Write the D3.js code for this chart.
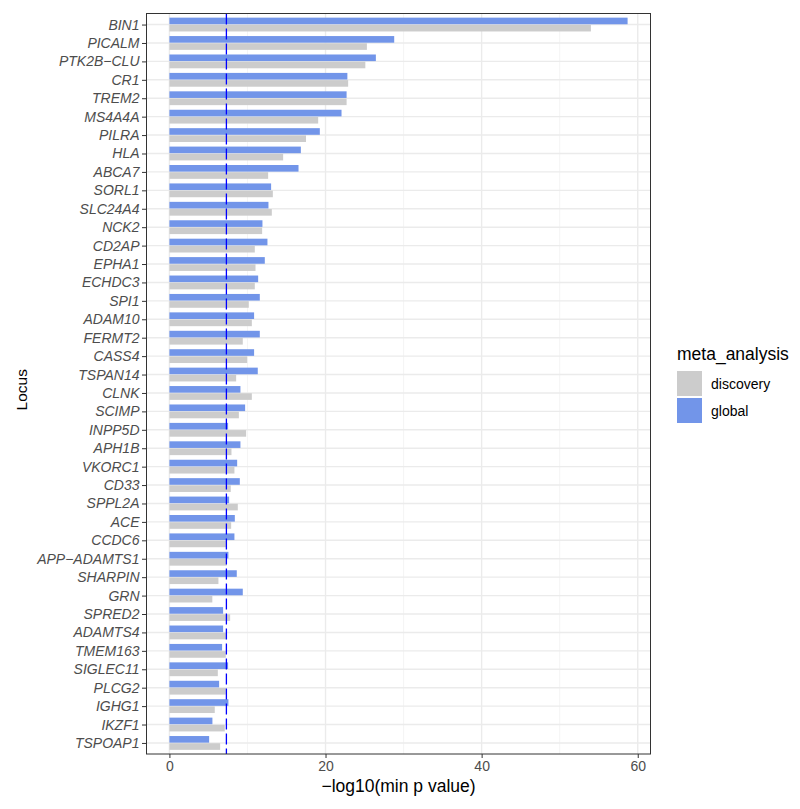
<!DOCTYPE html>
<html>
<head>
<meta charset="utf-8">
<script src="https://cdn.jsdelivr.net/npm/d3@7"></script>
<style>
  body { margin: 0; background: #fff; }
  text { font-family: "Liberation Sans", Arial, Helvetica, sans-serif; }
</style>
</head>
<body>
<div id="chart"></div>
<script>
const WIDTH = 800;
const HEIGHT = 809;

// loci, top to bottom
const loci = ["BIN1", "PICALM", "PTK2B\u2212CLU", "CR1", "TREM2", "MS4A4A", "PILRA", "HLA", "ABCA7", "SORL1",
  "SLC24A4", "NCK2", "CD2AP", "EPHA1", "ECHDC3", "SPI1", "ADAM10", "FERMT2", "CASS4", "TSPAN14",
  "CLNK", "SCIMP", "INPP5D", "APH1B", "VKORC1", "CD33", "SPPL2A", "ACE", "CCDC6", "APP\u2212ADAMTS1",
  "SHARPIN", "GRN", "SPRED2", "ADAMTS4", "TMEM163", "SIGLEC11", "PLCG2", "IGHG1", "IKZF1", "TSPOAP1"];

// -log10(min p) per locus
const globalVals = [58.7, 28.8, 26.45, 22.8, 22.7, 22.05, 19.27, 16.84, 16.54, 13.03,
  12.69, 11.92, 12.56, 12.22, 11.37, 11.58, 10.85, 11.58, 10.85, 11.32,
  9.1, 9.7, 7.52, 9.1, 8.68, 9.02, 7.65, 8.38, 8.33, 7.56,
  8.63, 9.4, 6.88, 6.88, 6.75, 7.52, 6.37, 7.56, 5.51, 5.09];

const discoveryVals = [54.0, 25.3, 25.1, 22.9, 22.7, 19.06, 17.5, 14.57, 12.65, 13.25,
  13.12, 11.88, 10.94, 11.03, 10.94, 10.17, 10.56, 9.4, 9.96, 8.55,
  10.56, 8.9, 9.83, 7.95, 8.33, 7.86, 8.76, 7.91, 7.26, 7.35,
  6.28, 5.5, 7.78, 7.35, 7.22, 6.2, 7.22, 5.81, 7.09, 6.5];

const threshold = -Math.log10(5e-8);
const xTicks = [0, 20, 40, 60];
const xMinor = [10, 30, 50];

const legendKeys = ["discovery", "global"];
const legendColors = ["#CCCCCC", "#7295E9"];

const panel = { left: 146.5, right: 650.5, top: 13.5, bottom: 754 };

const svg = d3.select("#chart").append("svg")
  .attr("width", WIDTH)
  .attr("height", HEIGHT);

const maxV = d3.max(globalVals.concat(discoveryVals));
const pad = maxV * 0.05;

const x = d3.scaleLinear()
  .domain([-pad, maxV + pad])
  .range([panel.left, panel.right]);

// one slot per locus, 0.6 step of padding at both ends like ggplot
const y = d3.scalePoint()
  .domain(loci)
  .range([panel.top, panel.bottom])
  .padding(0.6);
const step = y.step();

// grid
svg.append("g")
  .selectAll("line")
  .data(xMinor)
  .join("line")
  .attr("x1", d => x(d)).attr("x2", d => x(d))
  .attr("y1", panel.top).attr("y2", panel.bottom)
  .attr("stroke", "#F2F2F2").attr("stroke-width", 0.8);

svg.append("g")
  .selectAll("line")
  .data(xTicks)
  .join("line")
  .attr("x1", d => x(d)).attr("x2", d => x(d))
  .attr("y1", panel.top).attr("y2", panel.bottom)
  .attr("stroke", "#EBEBEB").attr("stroke-width", 1.4);

svg.append("g")
  .selectAll("line")
  .data(loci)
  .join("line")
  .attr("x1", panel.left).attr("x2", panel.right)
  .attr("y1", d => y(d)).attr("y2", d => y(d))
  .attr("stroke", "#EBEBEB").attr("stroke-width", 1.4);

// bars
const barH = step * 0.36;
const gap = step * 0.015;

svg.append("g")
  .selectAll("rect")
  .data(loci)
  .join("rect")
  .attr("x", x(0))
  .attr("y", d => y(d) - gap - barH)
  .attr("width", (d, i) => x(globalVals[i]) - x(0))
  .attr("height", barH)
  .attr("fill", legendColors[1]);

svg.append("g")
  .selectAll("rect")
  .data(loci)
  .join("rect")
  .attr("x", x(0))
  .attr("y", d => y(d) + gap)
  .attr("width", (d, i) => x(discoveryVals[i]) - x(0))
  .attr("height", barH)
  .attr("fill", legendColors[0]);

// threshold line
svg.append("line")
  .attr("x1", x(threshold)).attr("x2", x(threshold))
  .attr("y1", panel.top).attr("y2", panel.bottom)
  .attr("stroke", "#0000FF")
  .attr("stroke-width", 1.3)
  .attr("stroke-dasharray", "11,4");

// panel border
svg.append("rect")
  .attr("x", panel.left).attr("y", panel.top)
  .attr("width", panel.right - panel.left)
  .attr("height", panel.bottom - panel.top)
  .attr("fill", "none")
  .attr("stroke", "#333333")
  .attr("stroke-width", 1);

// x axis
const xAxis = svg.append("g")
  .attr("transform", `translate(0, ${panel.bottom})`)
  .call(d3.axisBottom(x).tickValues(xTicks).tickSize(4).tickPadding(3));
xAxis.select(".domain").remove();
xAxis.selectAll("line").attr("stroke", "#333333");
xAxis.selectAll("text")
  .attr("fill", "#4D4D4D")
  .style("font-size", "14px");

// y axis
const yAxis = svg.append("g")
  .attr("transform", `translate(${panel.left}, 0)`)
  .call(d3.axisLeft(y).tickSize(4.5).tickPadding(2.5));
yAxis.select(".domain").remove();
yAxis.selectAll("line").attr("stroke", "#333333");
yAxis.selectAll("text")
  .attr("fill", "#4D4D4D")
  .style("font-size", "14px")
  .style("font-style", "italic");

// axis titles
svg.append("text")
  .attr("x", (panel.left + panel.right) / 2)
  .attr("y", 792)
  .attr("text-anchor", "middle")
  .style("font-size", "17.5px")
  .attr("fill", "#000")
  .text("\u2212log10(min p value)");

svg.append("text")
  .attr("transform", `translate(27, ${(panel.top + panel.bottom) / 2 + 6}) rotate(-90)`)
  .attr("text-anchor", "middle")
  .style("font-size", "15.5px")
  .attr("fill", "#000")
  .text("Locus");

// legend
const legend = svg.append("g").attr("transform", "translate(677, 360)");
legend.append("text")
  .attr("x", 0).attr("y", 0)
  .style("font-size", "17.5px")
  .attr("fill", "#000")
  .text("meta_analysis");

const items = legend.selectAll("g.item")
  .data(legendKeys)
  .join("g")
  .attr("class", "item")
  .attr("transform", (d, i) => `translate(0, ${11 + i * 27})`);

items.append("rect")
  .attr("width", 25).attr("height", 25)
  .attr("fill", (d, i) => legendColors[i]);

items.append("text")
  .attr("x", 34).attr("y", 17.5)
  .style("font-size", "14px")
  .attr("fill", "#000")
  .text(d => d);
</script>
</body>
</html>
